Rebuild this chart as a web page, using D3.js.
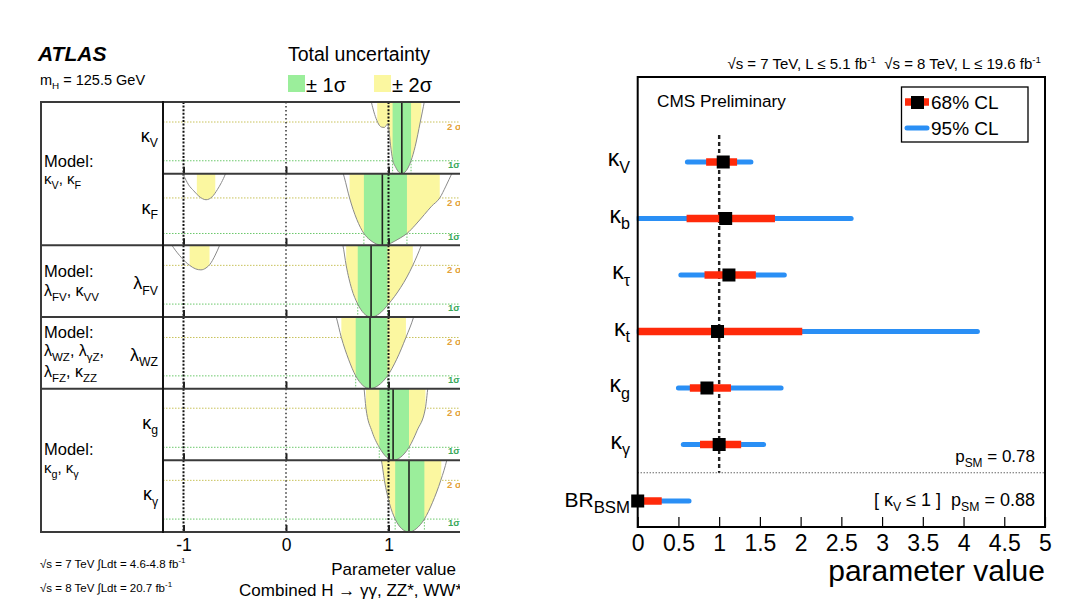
<!DOCTYPE html>
<html><head><meta charset="utf-8">
<script src="https://cdn.jsdelivr.net/npm/d3@7"></script>
<style>
body{margin:0;background:#fff}
svg{display:block}
text{font-family:"Liberation Sans",Arial,Helvetica,sans-serif;fill:#000;white-space:pre}
</style>
</head><body>
<svg id="c" width="1077" height="610"></svg>
<script>
// ================= ATLAS data =================
const atlasBase = ["κ","κ","λ","λ","κ","κ"];
const atlasSub  = ["V","F","FV","WZ","g","γ"];
const atlasBest = [1.13, 0.94, 0.83, 0.82, 1.045, 1.20];
const atlas1sLo = [1.04, 0.76, 0.70, 0.68, 0.91, 1.065];
const atlas1sHi = [1.22, 1.18, 0.99, 0.99, 1.20, 1.35];
const atlas2sLo = [0.89, 0.62, 0.587, 0.54, 0.78, 0.935];
const atlas2sHi = [1.32, 1.50, 1.237, 1.17, 1.36, 1.515];
const atlas2sAltLo = [null, -0.87, -0.94, null, null, null];
const atlas2sAltHi = [null, -0.69, -0.746, null, null, null];
const atlasYMax = [5.55, 6.05, 5.55, 5.6, 5.5, 5.55];
const curveKV = [[0.82,6.3],[0.83,5.7],[0.85,5.0],[0.88,4.25],[0.91,3.75],[0.935,3.6],[0.96,3.58],[0.975,3.7],[0.99,3.85],[1.005,3.3],[1.02,2.2],[1.04,1.1],[1.07,0.5],[1.10,0.12],[1.13,0],[1.16,0.11],[1.19,0.44],[1.22,1.0],[1.26,2.1],[1.31,4.0],[1.35,5.6],[1.37,6.5]];
const curveKF = [[0.54,6.6],[0.57,5.7],[0.62,4.0],[0.69,2.2],[0.76,1.0],[0.82,0.45],[0.88,0.12],[0.94,0],[1.0,0.1],[1.06,0.35],[1.12,0.65],[1.18,1.0],[1.26,1.7],[1.35,2.6],[1.42,3.3],[1.50,4.0],[1.56,5.0],[1.62,6.1],[1.66,6.8]];
const curveKFalt = [[-1.03,6.3],[-1.0,5.9],[-0.95,5.1],[-0.90,4.6],[-0.85,4.15],[-0.78,3.85],[-0.72,4.1],[-0.67,4.7],[-0.63,5.3],[-0.59,6.05],[-0.575,6.4]];
const curveLFV = [[0.53,6.2],[0.555,5.55],[0.587,4.0],[0.64,2.2],[0.70,1.0],[0.76,0.28],[0.83,0],[0.91,0.25],[1.0,1.0],[1.06,1.6],[1.12,2.3],[1.18,3.1],[1.237,4.0],[1.32,5.55],[1.35,6.2]];
const curveLFValt = [[-1.14,5.9],[-1.10,5.4],[-1.02,4.6],[-0.94,4.0],[-0.88,3.72],[-0.83,3.65],[-0.78,3.8],[-0.745,4.05],[-0.69,4.8],[-0.645,5.6],[-0.625,6.0]];
const curveLWZ = [[0.46,6.4],[0.49,5.6],[0.54,4.0],[0.61,2.3],[0.68,1.0],[0.75,0.25],[0.82,0],[0.90,0.25],[0.99,1.0],[1.08,2.3],[1.17,4.0],[1.245,5.6],[1.27,6.3]];
const curveKg = [[0.74,6.3],[0.76,5.6],[0.78,4.0],[0.84,2.2],[0.91,1.0],[0.98,0.25],[1.045,0],[1.12,0.25],[1.20,1.0],[1.28,2.3],[1.36,4.0],[1.385,5.6],[1.40,6.3]];
const curveKgam = [[0.91,6.3],[0.93,5.6],[0.96,4.0],[1.01,2.2],[1.065,1.0],[1.13,0.25],[1.20,0],[1.27,0.25],[1.35,1.0],[1.43,2.3],[1.51,4.0],[1.57,5.6],[1.59,6.3]];
const atlasCurves = [[curveKV],[curveKF,curveKFalt],[curveLFV,curveLFValt],[curveLWZ],[curveKg],[curveKgam]];
const atlasXTicks = [-1, 0, 1];
const atlasRefLines = [-1, 0, 1];

// ================= CMS data =================
const cmsBase = ["κ","κ","κ","κ","κ","κ","BR"];
const cmsSub  = ["V","b","τ","t","g","γ","BSM"];
const cmsBest = [1.05, 1.08, 1.12, 0.98, 0.85, 1.00, 0.0];
const cms68Lo = [0.84, 0.60, 0.82, 0.0, 0.64, 0.765, 0.0];
const cms68Hi = [1.22, 1.685, 1.45, 2.02, 1.145, 1.27, 0.295];
const cms95Lo = [0.61, 0.0, 0.53, 0.0, 0.50, 0.56, 0.0];
const cms95Hi = [1.39, 2.62, 1.80, 4.17, 1.76, 1.545, 0.63];
const cmsXTicks = [0,0.5,1,1.5,2,2.5,3,3.5,4,4.5,5];
const cmsPsm = ["0.78","0.88"];

// ================= helpers =================
const svg = d3.select("#c");
const defs = svg.append("defs");
function rich(sel, segs, fs, subScale, subFs){
  const ss = subScale || 0.7;
  let shift = 0;
  segs.forEach(([t,k])=>{
    const target = k==="sub" ? fs*0.3 : (k==="sup" ? -fs*0.4 : 0);
    sel.append("tspan").attr("dy", target-shift).attr("font-size", k ? (subFs || fs*ss) : fs).text(t);
    shift = target;
  });
  return sel;
}

// ================= ATLAS panel =================
const PL = 163, PR = 462, FL = 41;
const ax = d3.scaleLinear().domain([-1.2, 1.6]).range([163, 450]);
const rowBand = d3.scaleBand().domain(d3.range(6)).range([102, 532]);
const bw = rowBand.bandwidth();

defs.append("clipPath").attr("id","atlasClip").append("rect")
  .attr("x",0).attr("y",0).attr("width",460).attr("height",610);
const atlasG = svg.append("g").attr("clip-path","url(#atlasClip)");

const minorVals = d3.range(-12, 17, 2).map(v=>v/10).filter(v=>!atlasXTicks.some(t=>Math.abs(t-v)<1e-9));

atlasSub.forEach((s,i)=>{
  const top = rowBand(i), bot = top + bw;
  const ys = d3.scaleLinear().domain([0, atlasYMax[i]]).range([bot, top]);
  defs.append("clipPath").attr("id","row"+i).append("rect")
    .attr("x",PL).attr("y",top).attr("width",PR-PL).attr("height",bot-top);
  const inner = defs.append("clipPath").attr("id","in"+i);
  const area = d3.area().x(d=>ax(d[0])).y0(top-10).y1(d=>ys(d[1])).curve(d3.curveMonotoneX);
  atlasCurves[i].forEach(c=>inner.append("path").attr("d", area(c)));

  const rg = atlasG.append("g").attr("clip-path",`url(#row${i})`);
  rg.append("line").attr("x1",PL).attr("x2",PR).attr("y1",ys(4)).attr("y2",ys(4))
    .attr("stroke","#c8c25a").attr("stroke-width",1).attr("stroke-dasharray","1.5,1.5");
  rg.append("line").attr("x1",PL).attr("x2",PR).attr("y1",ys(1)).attr("y2",ys(1))
    .attr("stroke","#6cc86c").attr("stroke-width",1).attr("stroke-dasharray","1.5,1.5");

  const fill = rg.append("g").attr("clip-path",`url(#in${i})`);
  fill.append("rect").attr("x",ax(atlas2sLo[i])).attr("width",ax(atlas2sHi[i])-ax(atlas2sLo[i]))
    .attr("y",top).attr("height",bw).attr("fill","#fbf7a0");
  if (atlas2sAltLo[i]!==null){
    fill.append("rect").attr("x",ax(atlas2sAltLo[i])).attr("width",ax(atlas2sAltHi[i])-ax(atlas2sAltLo[i]))
      .attr("y",top).attr("height",bw).attr("fill","#fbf7a0");
  }
  fill.append("rect").attr("x",ax(atlas1sLo[i])).attr("width",ax(atlas1sHi[i])-ax(atlas1sLo[i]))
    .attr("y",top).attr("height",bw).attr("fill","#9bee9b");

  [atlas1sLo[i], atlas1sHi[i]].forEach(v=>{
    rg.append("line").attr("x1",ax(v)).attr("x2",ax(v)).attr("y1",ys(1)).attr("y2",bot)
      .attr("stroke","#6cc86c").attr("stroke-width",1).attr("stroke-dasharray","1.5,1.5");
  });

  atlasRefLines.forEach(v=>{
    rg.append("line").attr("x1",ax(v)).attr("x2",ax(v)).attr("y1",top).attr("y2",bot)
      .attr("stroke","#111").attr("stroke-width", v===0 ? 1.3 : 2)
      .attr("stroke-dasharray", v===0 ? "1.5,2.5" : "2,1.6");
  });
  rg.append("line").attr("x1",ax(atlasBest[i])).attr("x2",ax(atlasBest[i])).attr("y1",top).attr("y2",bot)
    .attr("stroke","#222").attr("stroke-width",1.6);
  const line = d3.line().x(d=>ax(d[0])).y(d=>ys(d[1])).curve(d3.curveMonotoneX);
  atlasCurves[i].forEach(c=>rg.append("path").attr("d",line(c)).attr("fill","none")
    .attr("stroke","#8a8a8a").attr("stroke-width",1));

  atlasG.append("text").attr("x",447).attr("y",ys(4)+8).attr("font-size",9.5).attr("font-weight","bold")
    .style("fill","#e3a23a").text("2 σ");
  atlasG.append("text").attr("x",448).attr("y",ys(1)+7).attr("font-size",9.5).attr("font-weight","bold")
    .style("fill","#3aa85a").text("1σ");

  const tg = atlasG.append("g").attr("transform",`translate(0,${bot})`);
  tg.call(d3.axisTop(ax).tickValues(minorVals).tickSize(3).tickFormat(""));
  tg.call(d3.axisTop(ax).tickValues(atlasXTicks).tickSize(7).tickFormat(""));
  tg.selectAll(".domain").remove();
  tg.selectAll(".tick line").attr("stroke","#222");
  tg.selectAll(".tick").filter(d=>atlasXTicks.includes(d)).select("line").attr("stroke-width",2);

  const lt = atlasG.append("text").attr("x",158).attr("y",top+bw/2+ (i===2||i===3 ? 8 : 4))
    .attr("text-anchor","end");
  rich(lt, [[atlasBase[i],""],[atlasSub[i],"sub"]], 18, 0.68);
});

// frame
const frameCol = "#3a3a3a";
function hline(y,x1,x2){atlasG.append("line").attr("x1",x1).attr("x2",x2).attr("y1",y).attr("y2",y).attr("stroke",frameCol).attr("stroke-width",2);}
hline(102, FL, PR); hline(532, FL, PR);
hline(rowBand(2), FL, PR); hline(rowBand(3), FL, PR); hline(rowBand(4), FL, PR);
hline(rowBand(1), PL, PR); hline(rowBand(5), PL, PR);
atlasG.append("line").attr("x1",FL).attr("x2",FL).attr("y1",101).attr("y2",533).attr("stroke",frameCol).attr("stroke-width",2);
atlasG.append("line").attr("x1",PL).attr("x2",PL).attr("y1",101).attr("y2",533).attr("stroke","#111").attr("stroke-width",2);

// Model labels
function modelText(y, fs, segs){
  const t = atlasG.append("text").attr("x",44).attr("y",y);
  rich(t, segs, fs, 0.72);
}
atlasG.append("text").attr("x",44).attr("y",167).attr("font-size",16.5).text("Model:");
modelText(184, 15, [["κ",""],["V","sub"],[", κ",""],["F","sub"]]);
atlasG.append("text").attr("x",44).attr("y",277).attr("font-size",16.5).text("Model:");
modelText(296, 16, [["λ",""],["FV","sub"],[", κ",""],["VV","sub"]]);
atlasG.append("text").attr("x",44).attr("y",338).attr("font-size",16.5).text("Model:");
modelText(356, 16, [["λ",""],["WZ","sub"],[", λ",""],["γZ","sub"],[",",""]]);
modelText(377, 16, [["λ",""],["FZ","sub"],[", κ",""],["ZZ","sub"]]);
atlasG.append("text").attr("x",44).attr("y",455).attr("font-size",16.5).text("Model:");
modelText(473, 15, [["κ",""],["g","sub"],[", κ",""],["γ","sub"]]);

// bottom axis labels
const bax = atlasG.append("g").attr("transform","translate(0,532)")
  .call(d3.axisBottom(ax).tickValues(atlasXTicks).tickSize(0).tickPadding(7).tickFormat(d=>String(d)));
bax.select(".domain").remove();
bax.selectAll("text").attr("font-size",17.5).attr("font-family","Liberation Sans, Arial, sans-serif");

// header
atlasG.append("text").attr("x",38).attr("y",61).attr("font-size",21).attr("font-weight","bold").attr("font-style","italic").text("ATLAS");
rich(atlasG.append("text").attr("x",40).attr("y",85), [["m",""],["H","sub"],[" = 125.5 GeV",""]], 14.5, 0.68);
atlasG.append("text").attr("x",288).attr("y",61).attr("font-size",19.5).text("Total uncertainty");
atlasG.append("rect").attr("x",288).attr("y",75).attr("width",17).attr("height",17).attr("fill","#9bee9b");
atlasG.append("text").attr("x",306).attr("y",92).attr("font-size",20).text("± 1σ");
atlasG.append("rect").attr("x",374).attr("y",75).attr("width",17).attr("height",17).attr("fill","#fbf7a0");
atlasG.append("text").attr("x",392).attr("y",92).attr("font-size",20).text("± 2σ");

// footer
rich(atlasG.append("text").attr("x",40).attr("y",568), [["√s = 7 TeV ∫Ldt = 4.6-4.8 fb",""],["-1","sup"]], 11.5, 0.7);
rich(atlasG.append("text").attr("x",40).attr("y",592), [["√s = 8 TeV ∫Ldt = 20.7 fb",""],["-1","sup"]], 11.5, 0.7);
atlasG.append("text").attr("x",456).attr("y",575).attr("text-anchor","end").attr("font-size",17).text("Parameter value");
atlasG.append("text").attr("x",462).attr("y",596).attr("text-anchor","end").attr("font-size",17).text("Combined H → γγ, ZZ*, WW*");

// ================= CMS panel =================
const CL = 637.7, CR = 1045, CT = 77, CB = 527;
const cx = d3.scaleLinear().domain([0,5]).range([CL, CR]);
const cy = d3.scaleLinear().domain([0,6]).range([162, 501]);
const cmsG = svg.append("g");

defs.append("clipPath").attr("id","cmsClip").append("rect")
  .attr("x",CL-1).attr("y",CT).attr("width",CR-CL+1).attr("height",CB-CT);

cmsG.append("line").attr("x1",cx(1)).attr("x2",cx(1)).attr("y1",135).attr("y2",cy(5.5))
  .attr("stroke","#222").attr("stroke-width",2.4).attr("stroke-dasharray","4,3");
cmsG.append("line").attr("x1",CL).attr("x2",CR).attr("y1",cy(5.5)).attr("y2",cy(5.5))
  .attr("stroke","#222").attr("stroke-width",1).attr("stroke-dasharray","1,2");

const marks = cmsG.append("g").attr("clip-path","url(#cmsClip)");
marks.selectAll("line.b95").data(cmsSub).join("line").attr("class","b95")
  .attr("x1",(d,i)=>cx(cms95Lo[i])).attr("x2",(d,i)=>cx(cms95Hi[i]))
  .attr("y1",(d,i)=>cy(i)).attr("y2",(d,i)=>cy(i))
  .attr("stroke","#2a8ff5").attr("stroke-width",5).attr("stroke-linecap","round");
marks.selectAll("line.r68").data(cmsSub).join("line").attr("class","r68")
  .attr("x1",(d,i)=>cx(cms68Lo[i])).attr("x2",(d,i)=>cx(cms68Hi[i]))
  .attr("y1",(d,i)=>cy(i)).attr("y2",(d,i)=>cy(i))
  .attr("stroke","#ff2a0a").attr("stroke-width",7.5);
cmsG.selectAll("rect.best").data(cmsSub).join("rect").attr("class","best")
  .attr("x",(d,i)=>cx(cmsBest[i])-6.5).attr("y",(d,i)=>cy(i)-6.5)
  .attr("width",13).attr("height",13).attr("fill","#000");

cmsG.append("rect").attr("x",CL).attr("y",CT).attr("width",CR-CL).attr("height",CB-CT)
  .attr("fill","none").attr("stroke","#000").attr("stroke-width",2);

const cMinor = d3.range(0,51).map(v=>v/10).filter(v=>!cmsXTicks.some(t=>Math.abs(t-v)<1e-9));
const ctg = cmsG.append("g").attr("transform",`translate(0,${CB})`);
ctg.call(d3.axisTop(cx).tickValues(cMinor).tickSize(5).tickFormat(""));
ctg.call(d3.axisTop(cx).tickValues(cmsXTicks).tickSize(10).tickFormat(""));
ctg.selectAll(".domain").remove();
ctg.selectAll(".tick line").attr("stroke","#000").attr("stroke-width",1.2);
const clab = cmsG.append("g").attr("transform",`translate(0,${CB})`)
  .call(d3.axisBottom(cx).tickValues(cmsXTicks).tickSize(0).tickPadding(8).tickFormat(d=>String(d)));
clab.select(".domain").remove();
clab.selectAll("text").attr("font-size",23).attr("font-family","Liberation Sans, Arial, sans-serif");
cmsG.append("text").attr("x",CR).attr("y",581).attr("text-anchor","end").attr("font-size",30).text("parameter value");

cmsSub.forEach((s,i)=>{
  const t = cmsG.append("text").attr("x",630).attr("y",cy(i)+(i===6?6:4)).attr("text-anchor","end");
  if (i===6) rich(t, [[cmsBase[i],""],[s,"sub"]], 21, 0.8);
  else rich(t, [[cmsBase[i],""],[s,"sub"]], 23, 0.7);
});

cmsG.append("text").attr("x",657).attr("y",107).attr("font-size",17.2).text("CMS Preliminary");
rich(cmsG.append("text").attr("x",1041).attr("y",69).attr("text-anchor","end"),
  [["√s = 7 TeV, L ≤ 5.1 fb",""],["-1","sup"],["  √s = 8 TeV, L ≤ 19.6 fb",""],["-1","sup"]], 15, 0.65);
rich(cmsG.append("text").attr("x",1035).attr("y",462).attr("text-anchor","end"),
  [["p",""],["SM","sub"],[" = "+cmsPsm[0],""]], 17, 0.7);
rich(cmsG.append("text").attr("x",1035).attr("y",506).attr("text-anchor","end"),
  [["[ κ",""],["V","sub"],[" ≤ 1 ]  p",""],["SM","sub"],[" = "+cmsPsm[1],""]], 18, 0.68);

cmsG.append("rect").attr("x",901.5).attr("y",87).attr("width",126.5).attr("height",55)
  .attr("fill","#fff").attr("stroke","#000").attr("stroke-width",1.3);
cmsG.append("line").attr("x1",905).attr("x2",929).attr("y1",102).attr("y2",102).attr("stroke","#ff2a0a").attr("stroke-width",7.5);
cmsG.append("rect").attr("x",911).attr("y",96).attr("width",13).attr("height",13).attr("fill","#000");
cmsG.append("text").attr("x",931).attr("y",109).attr("font-size",19).text("68% CL");
cmsG.append("line").attr("x1",907).attr("x2",927).attr("y1",128).attr("y2",128).attr("stroke","#2a8ff5").attr("stroke-width",5).attr("stroke-linecap","round");
cmsG.append("text").attr("x",931).attr("y",135).attr("font-size",19).text("95% CL");
</script>
</body></html>
